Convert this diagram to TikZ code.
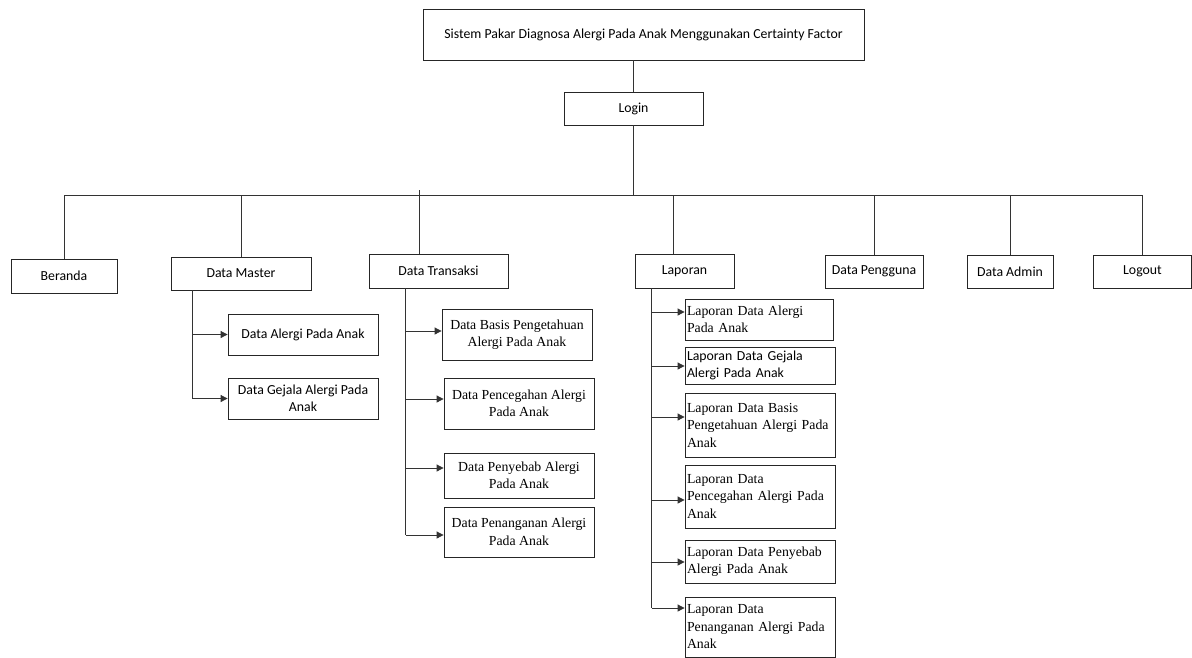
\documentclass[tikz,border=0pt]{standalone}
\usepackage{fontspec}
\setmainfont{Liberation Serif}
\newfontfamily\calfont{Carlito}
\usetikzlibrary{arrows.meta}
\tikzset{
  box/.style={draw=black!85, line width=0.8pt, inner sep=2pt, align=center,
    font=\calfont\fontsize{13.8}{17}\selectfont},
  subbox/.style={box, font=\fontsize{13.8}{17.5}\selectfont},
  lapbox/.style={subbox, align=left, text width=146pt, minimum width=150pt, inner xsep=2pt},
  link/.style={draw=black!80, line width=0.8pt},
  arr/.style={link, -{Triangle[length=7pt,width=7pt]}},
}
\begin{document}
\begin{tikzpicture}[x=1pt,y=1pt,yscale=-1]
\useasboundingbox (0,0) rectangle (1192,657);
% top
\node[box, minimum width=441pt, minimum height=51pt] (title) at (643.5,34.5) {Sistem Pakar Diagnosa Alergi Pada Anak Menggunakan Certainty Factor};
\node[box, minimum width=139pt, minimum height=33pt] (login) at (633.5,108.5) {Login};
% menu
\node[box, minimum width=106pt, minimum height=34pt] (beranda) at (64,276) {Beranda};
\node[box, minimum width=140pt, minimum height=33pt] (master) at (241,273.5) {Data Master};
\node[box, minimum width=139pt, minimum height=34pt] (transaksi) at (438.5,271) {Data Transaksi};
\node[box, minimum width=99pt, minimum height=34pt] (laporan) at (684.5,271) {Laporan};
\node[box, minimum width=98pt, minimum height=33pt] (pengguna) at (874,271.5) {Data Pengguna};
\node[box, minimum width=86pt, minimum height=33pt] (admin) at (1010,271.5) {Data Admin};
\node[box, minimum width=98pt, minimum height=33pt] (logout) at (1142.5,271.5) {Logout};
% data master
\node[box, minimum width=150pt, minimum height=41pt] (m1) at (303,334.5) {Data Alergi Pada Anak};
\node[box, minimum width=150pt, minimum height=41pt] (m2) at (303,398.5) {Data Gejala Alergi Pada\\Anak};
% data transaksi
\node[subbox, minimum width=150pt, minimum height=51pt] (t1) at (517,334.5) {Data Basis Pengetahuan\\Alergi Pada Anak};
\node[subbox, minimum width=150pt, minimum height=51pt] (t2) at (519,403.5) {Data Pencegahan Alergi\\Pada Anak};
\node[subbox, minimum width=150pt, minimum height=45pt] (t3) at (519,475.5) {Data Penyebab Alergi\\Pada Anak};
\node[subbox, minimum width=150pt, minimum height=50pt] (t4) at (519,532) {Data Penanganan Alergi\\Pada Anak};
% laporan
\node[lapbox, minimum height=41pt, text width=144pt, minimum width=148pt] (l1) at (759,319.5) {Laporan Data Alergi\\Pada Anak};
\node[lapbox, minimum height=37pt, font=\calfont\fontsize{13.8}{17}\selectfont] (l2) at (760,365.5) {Laporan Data Gejala\\Alergi Pada Anak};
\node[lapbox, minimum height=64pt] (l3) at (760,425) {Laporan Data Basis\\Pengetahuan Alergi Pada\\Anak};
\node[lapbox, minimum height=63pt] (l4) at (760,496.5) {Laporan Data\\Pencegahan Alergi Pada\\Anak};
\node[lapbox, minimum height=43pt] (l5) at (760,561.5) {Laporan Data Penyebab\\Alergi Pada Anak};
\node[lapbox, minimum height=60pt] (l6) at (760,627) {Laporan Data\\Penanganan Alergi Pada\\Anak};
% garis
\coordinate (busL) at (64,195);
\coordinate (busR) at (1142.5,195);
\coordinate (tdrop) at (419,190);
\coordinate (ldrop) at (673,195);
\draw[link] (title.south -| login) -- (login.north);
\draw[link] (login.south) -- (login.south |- busL);
\draw[link] (busL) -- (busR);
\foreach \n in {beranda,master,pengguna,admin,logout}
  \draw[link] (\n.north |- busL) -- (\n.north);
\draw[link] (tdrop) -- (tdrop |- transaksi.north);
\draw[link] (ldrop) -- (ldrop |- laporan.north);
% cabang data master
\draw[link] (master.south west) ++(22,0) coordinate (ms) -- (ms |- m2.west);
\foreach \n in {m1,m2}
  \draw[arr] (ms |- \n.west) -- (\n.west);
% cabang data transaksi
\draw[link] (transaksi.south west) ++(37,0) coordinate (ts) -- (ts |- 0,535);
\foreach \n/\y in {t1/331,t2/399,t3/468,t4/535}
  \draw[arr] (ts |- 0,\y) -- (\n.west |- 0,\y);
% cabang laporan
\draw[link] (laporan.south west) ++(17,0) coordinate (ls) -- (ls |- 0,608);
\foreach \n/\y in {l1/312,l2/366,l3/417,l4/500,l5/562,l6/608}
  \draw[arr] (ls |- 0,\y) -- (\n.west |- 0,\y);
\end{tikzpicture}
\end{document}
